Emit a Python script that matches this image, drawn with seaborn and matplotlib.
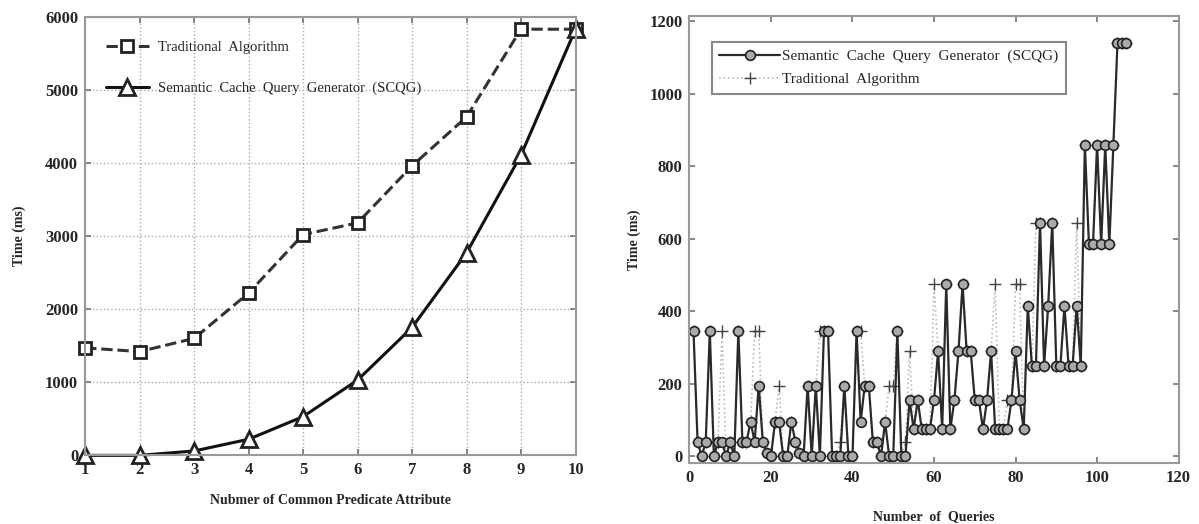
import numpy as np
import pandas as pd
import matplotlib
matplotlib.use('Agg')
import matplotlib.pyplot as plt
import seaborn as sns

sns.set_theme(style='white')
plt.rcParams['font.family'] = ['Liberation Serif', 'DejaVu Serif']

# left panel: time vs number of common predicate attributes
attrs = [1, 2, 3, 4, 5, 6, 7, 8, 9, 10]
trad_attr = [1470, 1420, 1600, 2220, 3020, 3180, 3960, 4630, 5830, 5830]
scqg_attr = [0, 0, 60, 220, 530, 1030, 1750, 2770, 4110, 5830]

# right panel: time per query
scqg_q = [345, 40, 0, 40, 345, 0, 40, 40, 0, 40,
          0, 345, 40, 40, 95, 40, 195, 40, 10, 0,
          95, 95, 0, 0, 95, 40, 10, 0, 195, 0,
          195, 0, 345, 345, 0, 0, 0, 195, 0, 0,
          345, 95, 195, 195, 40, 40, 0, 95, 0, 0,
          345, 0, 0, 155, 75, 155, 75, 75, 75, 155,
          290, 75, 475, 75, 155, 290, 475, 290, 290, 155,
          155, 75, 155, 290, 75, 75, 75, 75, 155, 290,
          155, 75, 415, 250, 250, 645, 250, 415, 645, 250,
          250, 415, 250, 250, 415, 250, 860, 585, 585, 860,
          585, 860, 585, 860, 1140, 1140, 1140]
trad_q = [345, 40, 0, 40, 345, 0, 40, 345, 0, 40,
          0, 345, 40, 40, 95, 345, 345, 40, 10, 0,
          95, 195, 0, 0, 95, 40, 10, 0, 195, 0,
          195, 345, 345, 345, 0, 0, 40, 195, 0, 0,
          345, 345, 195, 195, 40, 40, 0, 95, 195, 195,
          345, 0, 40, 290, 75, 155, 75, 75, 75, 475,
          290, 75, 475, 75, 155, 290, 475, 290, 290, 155,
          155, 75, 155, 290, 475, 75, 75, 155, 155, 475,
          475, 75, 415, 250, 645, 645, 250, 415, 645, 250,
          250, 415, 250, 250, 645, 250, 860, 585, 585, 860,
          585, 860, 585, 860, 1140, 1140, 1140]
queries = list(range(1, len(scqg_q) + 1))

fig = plt.figure(figsize=(11.99, 5.24), dpi=100)
ax1 = fig.add_axes([0.071, 0.131, 0.409, 0.837])
ax2 = fig.add_axes([0.575, 0.116, 0.408, 0.853])

#Left chart
sns.lineplot(x=attrs, y=trad_attr, ax=ax1, color='#333333', linestyle='--',
             linewidth=2.2, marker='s', markersize=9, markerfacecolor='white',
             markeredgecolor='#222222', markeredgewidth=2, clip_on=False,
             label='Traditional  Algorithm')
sns.lineplot(x=attrs, y=scqg_attr, ax=ax1, color='#111111', linestyle='-',
             linewidth=2.2, marker='^', markersize=11, markerfacecolor='white',
             markeredgecolor='#222222', markeredgewidth=2, clip_on=False,
             label='Semantic  Cache  Query  Generator  (SCQG)')
ax1.set_xlim(1, 10)
ax1.set_ylim(0, 6000)
ax1.set_xticks(attrs)
ax1.set_yticks(range(0, 6001, 1000))
ax1.grid(True, linestyle=':', color='#aaaaaa', linewidth=1)
ax1.set_xlabel('Nubmer of Common Predicate Attribute', fontweight='bold', fontsize=10, labelpad=11)
ax1.set_ylabel('Time (ms)', fontweight='bold', fontsize=10, labelpad=14)
ax1.legend(loc='upper left', bbox_to_anchor=(0.015, 0.975), frameon=False,
           fontsize=10.5, handlelength=3.0, handletextpad=0.6, labelspacing=1.9)

#Right chart
sns.lineplot(x=queries, y=trad_q, ax=ax2, color='#bbbbbb', linestyle=':',
             linewidth=1.2, marker='+', markersize=8, markeredgecolor='#444444',
             markeredgewidth=1, label='Traditional  Algorithm')
sns.lineplot(x=queries, y=scqg_q, ax=ax2, color='#2a2a2a', linestyle='-',
             linewidth=1.6, marker='o', markersize=7, markerfacecolor='#aaaaaa',
             markeredgecolor='#222222', markeredgewidth=1.2,
             label='Semantic  Cache  Query  Generator  (SCQG)')
ax2.set_xlim(0, 120)
ax2.set_ylim(-19, 1214)
ax2.set_xticks(range(0, 121, 20))
ax2.set_yticks(range(0, 1201, 200))
ax2.set_xlabel('Number  of  Queries', fontweight='bold', fontsize=10, labelpad=17)
ax2.set_ylabel('Time (ms)', fontweight='bold', fontsize=10, labelpad=6)
h, l = ax2.get_legend_handles_labels()
leg = ax2.legend(h[::-1], l[::-1], loc='upper left', bbox_to_anchor=(0.03, 0.96),
                 fontsize=11, handlelength=4, handletextpad=0.1,
                 fancybox=False, edgecolor='#888888', framealpha=1,
                 borderpad=0.5, labelspacing=0.6)
leg.get_frame().set_linewidth(1.5)

for ax in (ax1, ax2):
    for s in ax.spines.values():
        s.set_color('#999999')
        s.set_linewidth(1.5)
    ax.tick_params(direction='in', length=4, color='#777777', labelsize=12, pad=5,
                   top=True, right=True, bottom=True, left=True)
    for t in ax.get_xticklabels() + ax.get_yticklabels():
        t.set_fontweight('bold')

fig.savefig('out.png', dpi=100)
